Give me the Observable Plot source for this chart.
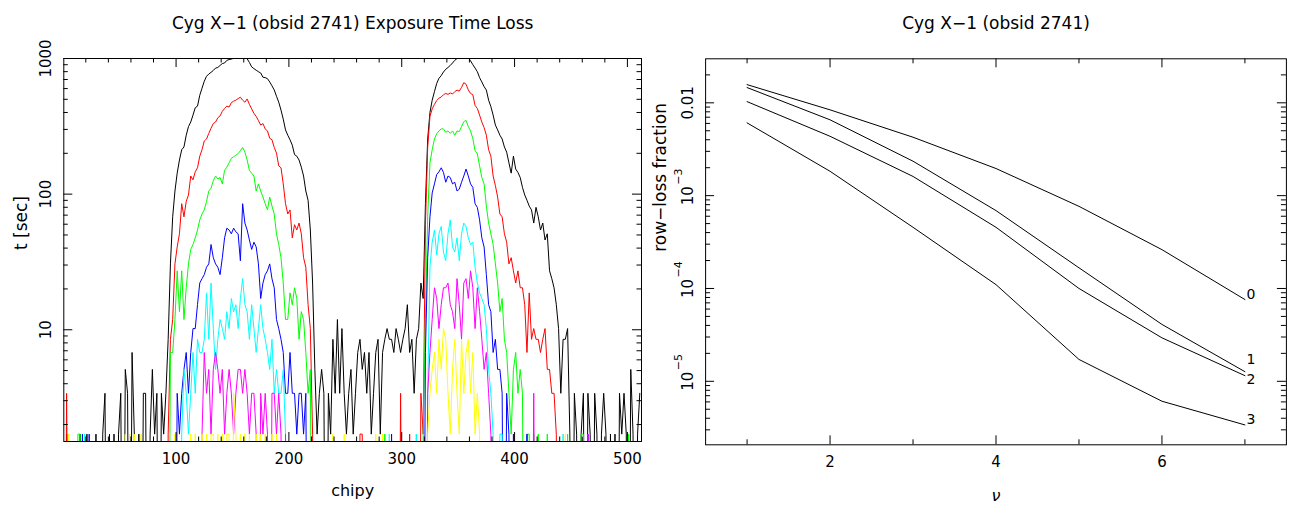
<!DOCTYPE html>
<html>
<head>
<meta charset="utf-8">
<script src="https://cdn.jsdelivr.net/npm/d3@7"></script>
<script src="https://cdn.jsdelivr.net/npm/@observablehq/plot@0.6"></script>
<style>
html, body { margin: 0; padding: 0; background: #fff; }
#wrap { position: relative; width: 1291px; height: 506px; overflow: hidden; }
#left { position: absolute; left: 0; top: 0; }
#right { position: absolute; left: 645px; top: 0; }
</style>
</head>
<body>
<div id="wrap"><div id="left"></div><div id="right"></div></div>
<script>
// ---------------- DATA: left panel (exposure time loss vs chipy) ----------------
// chipy sampled every 2 rows; values are counts of lost frames (t = count * frameTime)
const frameTime = 1.7;           // seconds per lost frame
const belowAxis = 0.01;          // zero counts are drawn below the axis (clipped)
const chipyTicksMajor = [100, 200, 300, 400, 500];
const tTicksMajor = [10, 100, 1000];

const blackRuns = [
  [1,   [0,1,0,0,0,0,0,1,0,0, 1,0,0,0,1,0,0,1,2,0, 1,0,1,0,1,2,0,3,2,0, 4,1,0,1,0,2,2,0,1,3, 1,2,0,2,1,2]],
  [93,  [5,18,40,62,84,105,125,131,160,185, 200,225,255,262,315,355,400,435,452,465, 480,500,505,523,540,545,570,578,582,590, 595,600,600,605,598,585,550,510,495,482, 470,460,428,425,418,395,370,345,310,280, 245,210,175,160,148,135,115,112,105,93, 80,62,53,32,13,3,1]],
  [227, [2,3,2,0,2,1,5,2,7,2, 6,2,1,2,3,1,2,4,5,3, 4,2,4,1,2,4,5,1,4,5, 6,5,5,4,6,5,4,5,6,9, 4,5,2,5,6,13,10,50]],
  [323, [150,235,290,335,385,420,440,468,490,505, 523,545,570,588,600,610,612,605,598,565, 530,500,470,425,395,365,344,290,260,225, 190,175,160,150,131,120,100,84,112,90, 85,78,66,58,53,48,45,36,47,40, 32,36,27,30,16,14,12,9]],
  [439, [6,2,5,5,6,1,0,2,1,0, 1,2,0,2,1,0,2,1,0,1, 2,1,0,1,0,1,0,2,1,2, 1,0,3,1,0,1,2]]
];
const blackBits = [];

const redRuns = [
  [93,  [1,5,7,18,24,30,50,40,52,58, 80,75,86,92,112,125,145,150,165,180, 195,200,215,222,240,252,262,258,278,285, 290,298,305,290,280,296,270,250,232,220, 205,190,195,178,172,152,148,130,118,95, 92,70,50,42,45,28,35,32,36,30, 20,17,9,6,1,0]],
  [315, [0,2,1,35,130,220,250,270,288,300, 306,318,325,320,328,322,335,344,338,360, 390,380,345,325,318,265,252,225,200,182, 160,125,112,80,68,56,42,40,30,26, 18,20,16,13,16,12,12,9,4,11, 5,6,5,5,4,5,6,3,3,2, 2,1,0]]
];
const redBits = [[3,2],[263,1],[265,1],[299,2],[307,1]];

const greenRuns = [
  [93,  [0,4,4,7,16,8,16,7,12,18, 23,25,28,32,38,42,45,52,62,65, 74,80,76,78,70,88,93,100,108,111, 114,117,123,130,120,105,88,84,80,62, 70,62,56,50,45,56,48,42,30,25, 20,13,7,7,11,9,12,10,5,8, 7,4,2,3,0]],
  [317, [0,1,7,40,100,125,150,164,172,178, 178,168,172,165,172,160,172,170,185,201, 206,185,172,151,123,117,95,78,70,48, 36,30,25,18,13,8,10,5,4,2, 1,3,4,2,3,2,0]]
];
const greenBits = [[13,1],[15,1],[285,1],[313,1],[411,1],[413,1],[417,1],[421,1],[429,1],[447,1],[459,1],[461,1],[501,1]];

const blueRuns = [
  [99,  [0,2,1,2,3,4,2,4,6,6, 9,13,14,15,17,18,25,20,18,17, 15,20,28,33,32,30,33,31,30,19, 50,36,32,27,23,26,24,18,10,13, 15,16,18,14,12,7,6,5,4,2, 2,4,2,2,1,2,2,1,2,0]],
  [319, [0,4,20,40,60,70,82,86,92,85, 72,80,78,70,72,62,64,72,80,90, 80,70,66,50,47,38,28,24,15,9, 8,4,5,3,3,2,0,2,1,0]]
];
const blueBits = [[17,1],[23,1],[291,1],[399,1],[411,1],[465,1]];

const cyanRuns = [
  [103, [0,1,3,2,1,2,4,2,5,4, 4,5,11,5,13,6,3,5,7,6, 5,8,6,10,8,9,6,10,14,9, 8,5,9,6,4,6,9,6,5,4, 3,5,2,3,2,2,3,1,0]],
  [321, [0,2,17,26,32,21,30,34,22,19, 30,38,24,22,28,19,30,36,34,28, 25,26,17,13,11,10,9,6,3,2, 1,0]]
];
const cyanBits = [[19,1],[289,1],[313,1],[387,1],[389,1],[443,1]];

const magentaRuns = [
  [121, [0,1,4,2,3,1,3,4,3,2, 3,1,2,3,2,1,2,3,3,2, 3,2,1,2,2,1,0,2,1,2, 1,0,2,2,1,2,1,0,1,0]],
  [321, [0,2,4,7,12,10,6,9,12,12, 13,9,8,6,14,9,5,13,14,10, 16,12,6,12,8,5,3,4,2,1, 0,0]]
];
const magentaBits = [[417,2],[465,1]];

const yellowRuns = [
  [113, [1,0,1,0,0,1,0,1,0,1, 1,0,1,0,1,0,1,1,0,2, 1,0,1,0,1,0,1,0,0,1, 0,1,0,1,0,0,1,0,1,0, 0]],
  [321, [0,1,2,3,4,2,5,3,6,5, 2,1,3,5,2,1,5,2,4,5, 2,4,1,2,1,0]]
];
const yellowBits = [[5,1],[55,1],[59,1],[63,1],[69,1],[99,1],[239,1],[249,1],[277,1],[283,1],[445,1]];

// ---------------- DATA: right panel (row-loss fraction vs nu) ----------------
const nu = [1, 2, 3, 4, 5, 6, 7];
const rowLoss0 = [0.0157, 0.0084, 0.00426, 0.00196, 7.67e-4, 2.62e-4, 7.6e-5];
const rowLoss1 = [0.0146, 0.00656, 0.00235, 6.9e-4, 1.67e-4, 4.1e-5, 1.27e-5];
const rowLoss2 = [0.0103, 0.00436, 0.00161, 4.56e-4, 1.0e-4, 2.94e-5, 1.15e-5];
const rowLoss3 = [0.00608, 0.00183, 4.56e-4, 1.10e-4, 1.72e-5, 6.1e-6, 3.39e-6];
const lineLabels = ["0", "1", "2", "3"];
const lineLabelDy = [-5, -12, 4, -5];
const nuTicksMajor = [2, 4, 6];
const nuTicksMinor = [1, 3, 5, 7];
const rowLossTicksMajor = [1e-2, 1e-3, 1e-4, 1e-5];
const rowLossTickBase = ["0.01", "10", "10", "10"];
const rowLossTickExp = ["", "\u22123", "\u22124", "\u22125"];

// ---------------- BUILD ----------------
const FONT = '"DejaVu Sans", sans-serif';
const chipy = d3.range(1, 513, 2);
function toPoints(runs, bits) {
  const counts = new Map();
  for (const [start, vals] of runs) vals.forEach((v, i) => counts.set(start + 2 * i, v));
  for (const [c, v] of bits) counts.set(c, v);
  return chipy.map(c => {
    const n = counts.get(c) || 0;
    return {chipy: c, t: n > 0 ? n * frameTime : belowAxis};
  });
}
const leftSeries = [
  {color: "#000000", pts: toPoints(blackRuns, blackBits)},
  {color: "#ff0000", pts: toPoints(redRuns, redBits)},
  {color: "#00ff00", pts: toPoints(greenRuns, greenBits)},
  {color: "#0000ff", pts: toPoints(blueRuns, blueBits)},
  {color: "#00ffff", pts: toPoints(cyanRuns, cyanBits)},
  {color: "#ff00ff", pts: toPoints(magentaRuns, magentaBits)},
  {color: "#ffff00", pts: toPoints(yellowRuns, yellowBits)}
];

function minorLogTicks(lo, hi) {
  const out = [];
  for (let e = Math.floor(Math.log10(lo)); e <= Math.ceil(Math.log10(hi)); e++)
    for (let k = 2; k <= 9; k++) { const v = k * Math.pow(10, e); if (v >= lo && v <= hi) out.push(v); }
  return out;
}

const MAJ = 9, MIN = 4.5;

// Left plot geometry
const L = {w: 645, h: 506, ml: 63.3, mr: 4, mt: 58, mb: 65};
const LiW = L.w - L.ml - L.mr, LiH = L.h - L.mt - L.mb;
const tDomain = [1.5, 1000];
const chipyMinor = d3.range(20, 512, 20).filter(v => v % 100 !== 0);
const tMinor = minorLogTicks(tDomain[0], tDomain[1]);

function xTicks(vals, len, innerH) {
  return [
    Plot.ruleX(vals, {x: d => d, insetTop: innerH - len, stroke: "#000", strokeWidth: 1}),
    Plot.ruleX(vals, {x: d => d, insetBottom: innerH - len, stroke: "#000", strokeWidth: 1})
  ];
}
function yTicks(vals, len, innerW) {
  return [
    Plot.ruleY(vals, {y: d => d, insetRight: innerW - len, stroke: "#000", strokeWidth: 1}),
    Plot.ruleY(vals, {y: d => d, insetLeft: innerW - len, stroke: "#000", strokeWidth: 1})
  ];
}

const leftPlot = Plot.plot({
  width: L.w, height: L.h,
  marginLeft: L.ml, marginRight: L.mr, marginTop: L.mt, marginBottom: L.mb,
  style: {fontFamily: FONT, fontSize: "15px", background: "#fff", color: "#000"},
  x: {domain: [0.5, 512.5], axis: null},
  y: {type: "log", domain: tDomain, axis: null},
  marks: [
    ...leftSeries.map(s => Plot.line(s.pts, {x: "chipy", y: "t", stroke: s.color, strokeWidth: 1, clip: true})),
    Plot.frame({stroke: "#000", strokeWidth: 1}),
    ...xTicks(chipyTicksMajor, MAJ, LiH),
    ...xTicks(chipyMinor, MIN, LiH),
    ...yTicks(tTicksMajor, MAJ, LiW),
    ...yTicks(tMinor, MIN, LiW),
    Plot.text(chipyTicksMajor, {x: d => d, text: d => String(d), frameAnchor: "bottom", dy: 11.7, lineAnchor: "top", fontSize: 15, fill: "#000"}),
    Plot.text(tTicksMajor, {y: d => d, text: d => String(d), frameAnchor: "left", dx: -18, rotate: -90, textAnchor: "middle", lineAnchor: "middle", fontSize: 15, fill: "#000"}),
    Plot.text(["Cyg X\u22121 (obsid 2741) Exposure Time Loss"], {text: d => d, frameAnchor: "top", dy: -35, lineAnchor: "middle", fontSize: 17, fill: "#000"}),
    Plot.text(["chipy"], {text: d => d, frameAnchor: "bottom", dy: 49, lineAnchor: "middle", fontSize: 16, fill: "#000"}),
    Plot.text(["t [sec]"], {text: d => d, frameAnchor: "left", dx: -42, rotate: -90, lineAnchor: "middle", fontSize: 17, fill: "#000"})
  ]
});
document.getElementById("left").appendChild(leftPlot);

// Right plot geometry
const R = {w: 646, h: 506, ml: 60.1, mr: 5.1, mt: 58.3, mb: 61.7};
const RiW = R.w - R.ml - R.mr, RiH = R.h - R.mt - R.mb;
const fDomain = [2.07e-6, 0.0298];
const fMinor = minorLogTicks(fDomain[0], fDomain[1]);
const rowLossSeries = [rowLoss0, rowLoss1, rowLoss2, rowLoss3];

const rightPlot = Plot.plot({
  width: R.w, height: R.h,
  marginLeft: R.ml, marginRight: R.mr, marginTop: R.mt, marginBottom: R.mb,
  style: {fontFamily: FONT, fontSize: "15px", background: "#fff", color: "#000"},
  x: {domain: [0.5, 7.5], axis: null},
  y: {type: "log", domain: fDomain, axis: null},
  marks: [
    ...rowLossSeries.map(vals => Plot.line(nu.map((n, i) => ({nu: n, f: vals[i]})), {x: "nu", y: "f", stroke: "#000", strokeWidth: 1})),
    ...rowLossSeries.map((vals, k) => Plot.text([{nu: nu[nu.length - 1], f: vals[vals.length - 1], label: lineLabels[k]}],
      {x: "nu", y: "f", text: "label", dx: 1.5, dy: lineLabelDy[k], textAnchor: "start", lineAnchor: "middle", fontSize: 14, fill: "#000"})),
    Plot.frame({stroke: "#000", strokeWidth: 1}),
    ...xTicks(nuTicksMajor, MAJ, RiH),
    ...xTicks(nuTicksMinor, 5, RiH),
    ...yTicks(rowLossTicksMajor, MAJ, RiW),
    ...yTicks(fMinor, 5, RiW),
    Plot.text(nuTicksMajor, {x: d => d, text: d => String(d), frameAnchor: "bottom", dy: 11.7, lineAnchor: "top", fontSize: 15, fill: "#000"}),
    Plot.text(rowLossTicksMajor, {y: d => d, text: (d, i) => rowLossTickBase[i], frameAnchor: "left", dx: -17, rotate: -90, textAnchor: "middle", lineAnchor: "middle", fontSize: 15, fill: "#000"}),
    Plot.text(rowLossTicksMajor, {y: d => d, text: (d, i) => rowLossTickExp[i], frameAnchor: "left", dx: -27, dy: -11, rotate: -90, textAnchor: "start", lineAnchor: "middle", fontSize: 11, fill: "#000"}),
    Plot.text(["Cyg X\u22121 (obsid 2741)"], {text: d => d, frameAnchor: "top", dy: -35.3, lineAnchor: "middle", fontSize: 17, fill: "#000"}),
    Plot.text(["\u03bd"], {text: d => d, frameAnchor: "bottom", dy: 50.6, lineAnchor: "middle", fontSize: 16, fontStyle: "italic", fill: "#000"}),
    Plot.text(["row\u2212loss fraction"], {text: d => d, frameAnchor: "left", dx: -45, rotate: -90, lineAnchor: "middle", fontSize: 17, fill: "#000"})
  ]
});
document.getElementById("right").appendChild(rightPlot);
</script>
</body>
</html>
